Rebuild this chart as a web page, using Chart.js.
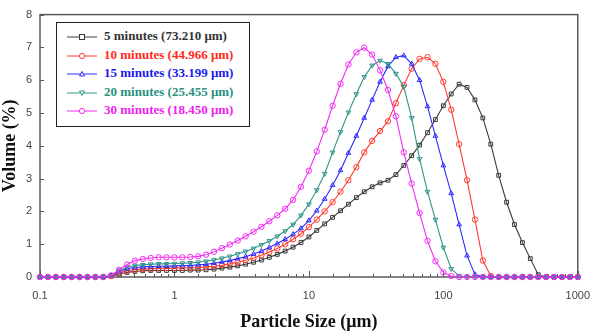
<!DOCTYPE html>
<html>
<head>
<meta charset="utf-8">
<script src="https://cdn.jsdelivr.net/npm/chart.js@4/dist/chart.umd.min.js"></script>
<style>
  body { margin: 0; background: #fff; }
  #wrap { position: relative; width: 602px; height: 333px; }
  #legend {
    position: absolute; left: 56px; top: 22px; width: 194px; height: 105px;
    border: 1.5px solid #222; background: #fff; padding-top: 4px; box-sizing: border-box;
    font: bold 13px "Liberation Serif", serif;
  }
  #legend div { height: 18.5px; line-height: 18.5px; white-space: nowrap; }
  #legend svg { vertical-align: middle; margin: 0 7px 0 10px; }
</style>
</head>
<body>
<div id="wrap">
  <canvas id="psdChart" width="602" height="333"></canvas>
  <div id="legend"></div>
</div>
<script>
// particle size bins (um)
const sizes = [
  0.1, 0.1145, 0.1311, 0.1501, 0.1719, 0.1968, 0.2254, 0.2581, 0.2955, 0.3384, 0.3875, 0.4437, 0.508, 0.5817, 0.6661, 0.7627, 0.8733,
  1, 1.145, 1.311, 1.501, 1.719, 1.968, 2.254, 2.581, 2.955, 3.384, 3.875, 4.437, 5.08, 5.817, 6.661, 7.627, 8.733,
  10, 11.45, 13.11, 15.01, 17.19, 19.68, 22.54, 25.81, 29.55, 33.84, 38.75, 44.37, 50.8, 58.17, 66.61, 76.27, 87.33,
  100, 114.5, 131.1, 150.1, 171.9, 196.8, 225.4, 258.1, 295.5, 338.4, 387.5, 443.7, 508, 581.7, 666.1, 762.7, 873.3,
  1000
];

const labels = [
  '5 minutes (73.210 \u03bcm)',
  '10 minutes (44.966 \u03bcm)',
  '15 minutes (33.199 \u03bcm)',
  '20 minutes (25.455 \u03bcm)',
  '30 minutes (18.450 \u03bcm)'
];

const min5 = [
  0, 0, 0, 0, 0, 0, 0, 0, 0, 0.02, 0.09, 0.14, 0.17, 0.19, 0.2, 0.2, 0.2,
  0.2, 0.2, 0.21, 0.21, 0.22, 0.24, 0.27, 0.3, 0.34, 0.39, 0.45, 0.52, 0.6, 0.69, 0.79, 0.91, 1.05,
  1.22, 1.42, 1.62, 1.82, 2.02, 2.22, 2.42, 2.6, 2.75, 2.87, 2.95, 3.12, 3.4, 3.7, 4.02, 4.4, 4.8,
  5.22, 5.58, 5.88, 5.78, 5.4, 4.85, 4.05, 3.1, 2.28, 1.6, 1.05, 0.56, 0.07, 0, 0, 0, 0,
  0
];
const min10 = [
  0, 0, 0, 0, 0, 0, 0, 0, 0, 0.03, 0.13, 0.19, 0.22, 0.24, 0.25, 0.26, 0.27,
  0.27, 0.28, 0.28, 0.29, 0.31, 0.33, 0.36, 0.4, 0.45, 0.51, 0.58, 0.66, 0.76, 0.87, 1.0, 1.15, 1.32,
  1.52, 1.75, 2.0, 2.28, 2.6, 2.95, 3.35, 3.8, 4.15, 4.45, 4.75, 5.3, 5.85, 6.35, 6.65, 6.7, 6.5,
  5.95, 5.1, 4.05, 2.95, 1.75, 0.5, 0.03, 0, 0, 0, 0, 0, 0, 0, 0, 0, 0,
  0
];
const min15 = [
  0, 0, 0, 0, 0, 0, 0, 0, 0, 0.04, 0.17, 0.25, 0.29, 0.31, 0.32, 0.33, 0.33,
  0.34, 0.35, 0.35, 0.37, 0.39, 0.42, 0.46, 0.5, 0.56, 0.62, 0.7, 0.79, 0.9, 1.02, 1.15, 1.3, 1.48,
  1.72, 2.02, 2.38, 2.8, 3.25, 3.78, 4.3, 4.85, 5.4, 5.95, 6.42, 6.7, 6.75, 6.5, 6.0, 5.2, 4.3,
  3.4, 2.55, 1.6, 0.65, 0.08, 0, 0, 0, 0, 0, 0, 0, 0, 0, 0, 0, 0,
  0
];
const min20 = [
  0, 0, 0, 0, 0, 0, 0, 0, 0, 0.05, 0.2, 0.3, 0.35, 0.37, 0.39, 0.4, 0.4,
  0.41, 0.42, 0.43, 0.45, 0.48, 0.52, 0.57, 0.63, 0.7, 0.78, 0.87, 0.98, 1.1, 1.24, 1.4, 1.6, 1.88,
  2.22, 2.65, 3.15, 3.8, 4.42, 5.02, 5.58, 6.1, 6.45, 6.6, 6.5, 6.2, 5.8, 4.85, 3.6, 2.6, 1.75,
  0.9, 0.25, 0.03, 0, 0, 0, 0, 0, 0, 0, 0, 0, 0, 0, 0, 0, 0,
  0
];
const min30 = [
  0, 0, 0, 0, 0, 0, 0, 0, 0, 0.05, 0.22, 0.38, 0.5, 0.55, 0.58, 0.6, 0.6,
  0.6, 0.6, 0.61, 0.63, 0.68, 0.77, 0.88, 0.99, 1.11, 1.24, 1.38, 1.53, 1.7, 1.88, 2.08, 2.35, 2.75,
  3.24, 3.83, 4.49, 5.22, 5.89, 6.48, 6.85, 6.99, 6.78, 6.3, 5.7, 4.9, 3.8, 2.85, 1.95, 1.1, 0.48,
  0.14, 0.03, 0, 0, 0, 0, 0, 0, 0, 0, 0, 0, 0, 0, 0, 0, 0,
  0
];

const series = [min5, min10, min15, min20, min30];
const colors = ['#3a3a3a', '#ff3b30', '#2a2aff', '#2e9688', '#f22cf2'];
const textColors = ['#333333', '#ff2a1a', '#1a1aee', '#2a9080', '#ee22ee'];
const markers = ['rect', 'circle', 'triangle', 'triangle', 'circle'];
const rotations = [0, 0, 0, 180, 0];

const isDecade = v => Math.abs(Math.log10(v) - Math.round(Math.log10(v))) < 1e-6;

// frame and inward tick marks
const frameTicks = {
  id: 'frameTicks',
  beforeDatasetsDraw(chart) {
    const { ctx, chartArea: a, scales: { x, y } } = chart;
    ctx.save();
    ctx.strokeStyle = '#555';
    ctx.lineWidth = 1;
    ctx.beginPath();
    x.ticks.forEach(t => {
      const px = Math.round(x.getPixelForValue(t.value)) + 0.5;
      ctx.moveTo(px, a.bottom);
      ctx.lineTo(px, a.bottom - (isDecade(t.value) ? 6 : 3));
    });
    y.ticks.forEach(t => {
      const py = Math.round(y.getPixelForValue(t.value)) + 0.5;
      ctx.moveTo(a.left, py);
      ctx.lineTo(a.left + 4, py);
    });
    ctx.stroke();
    ctx.lineWidth = 1.5;
    ctx.strokeStyle = '#5a5a5a';
    ctx.strokeRect(a.left, a.top, a.right - a.left, a.bottom - a.top);
    ctx.restore();
  }
};

const datasets = series.map((values, i) => ({
  label: labels[i],
  data: values.map((v, j) => ({ x: sizes[j], y: v })),
  borderColor: colors[i],
  backgroundColor: 'rgba(255,255,255,0)',
  borderWidth: 1.1,
  pointStyle: markers[i],
  rotation: rotations[i],
  pointRadius: 2.7,
  pointBorderWidth: 1,
  tension: 0,
  clip: false,
  order: 4 - i
}));

new Chart(document.getElementById('psdChart'), {
  type: 'line',
  data: { datasets },
  options: {
    responsive: false,
    animation: false,
    layout: { padding: { top: 5, right: 17, left: 0, bottom: 0 } },
    plugins: { legend: { display: false }, tooltip: { enabled: false } },
    scales: {
      x: {
        type: 'logarithmic',
        min: 0.1,
        max: 1000,
        grid: { display: false, drawTicks: false },
        border: { display: false },
        afterFit: s => { s.height = 56; },
        ticks: {
          autoSkip: false,
          maxRotation: 0,
          padding: 12,
          color: '#444',
          font: { family: 'Liberation Sans, Arial', size: 11 },
          callback: v => (isDecade(v) ? String(v) : '')
        },
        title: {
          display: true,
          text: 'Particle Size (\u03bcm)',
          color: '#111',
          padding: { top: 0, bottom: 0 },
          font: { family: 'Liberation Serif, serif', size: 18, weight: 'bold' }
        }
      },
      y: {
        min: 0,
        max: 8,
        grid: { display: false, drawTicks: false },
        border: { display: false },
        afterFit: s => { s.width = 40; },
        ticks: {
          stepSize: 1,
          padding: 8,
          color: '#444',
          font: { family: 'Liberation Sans, Arial', size: 11 }
        },
        title: {
          display: true,
          text: 'Volume (%)',
          color: '#111',
          padding: { top: 0, bottom: 0 },
          font: { family: 'Liberation Serif, serif', size: 18, weight: 'bold' }
        }
      }
    }
  },
  plugins: [frameTicks]
});

// legend box inside the plot
const legend = document.getElementById('legend');
labels.forEach((text, i) => {
  let mark;
  if (markers[i] === 'rect') {
    mark = `<rect x="12.5" y="3.5" width="5" height="5" fill="#fff" stroke="${colors[i]}"/>`;
  } else if (markers[i] === 'circle') {
    mark = `<circle cx="15" cy="6" r="2.6" fill="#fff" stroke="${colors[i]}"/>`;
  } else if (rotations[i] === 180) {
    mark = `<polygon points="12.5,4 17.5,4 15,8.5" fill="#fff" stroke="${colors[i]}"/>`;
  } else {
    mark = `<polygon points="12.5,8 17.5,8 15,3.5" fill="#fff" stroke="${colors[i]}"/>`;
  }
  const row = document.createElement('div');
  row.style.color = textColors[i];
  row.innerHTML = `<svg width="30" height="12"><line x1="0" y1="6" x2="30" y2="6" stroke="${colors[i]}" stroke-width="1"/>${mark}</svg>${text}`;
  legend.appendChild(row);
});
</script>
</body>
</html>
